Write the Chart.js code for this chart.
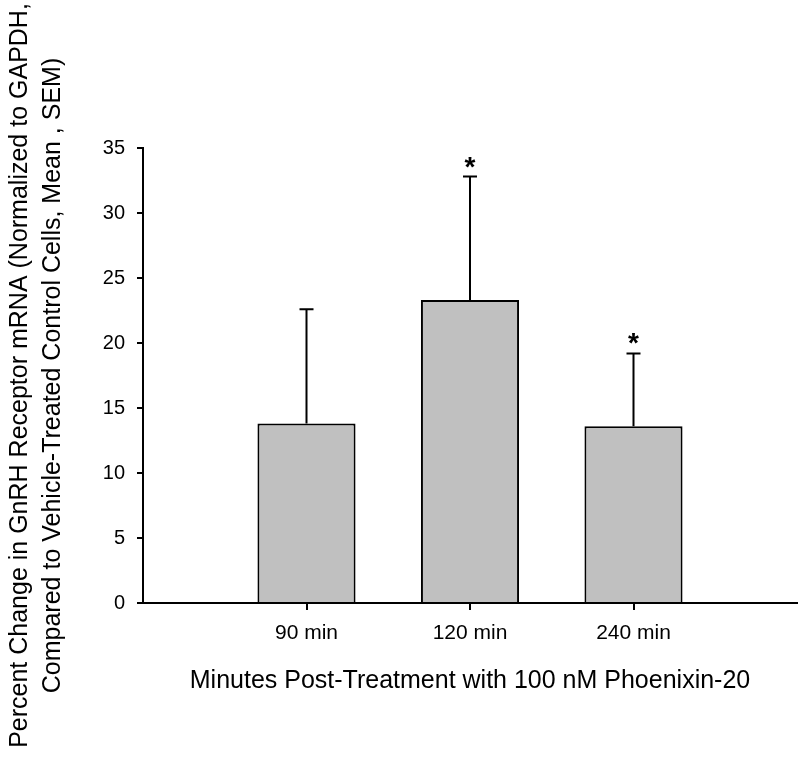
<!DOCTYPE html>
<html>
<head>
<meta charset="utf-8">
<title>GnRH Receptor mRNA</title>
<script src="https://cdn.jsdelivr.net/npm/chart.js@4.4.1/dist/chart.umd.min.js"></script>
<style>
    html, body { margin: 0; padding: 0; background: #ffffff; }
    #wrap { width: 800px; height: 760px; }
</style>
</head>
<body>
<div id="wrap"><canvas id="barChart" width="800" height="760"></canvas></div>
<script>
// Datos
const categories = ['90 min', '120 min', '240 min'];
const positions = [1, 2, 3];
const means = [13.8, 23.3, 13.6];
const sem = [8.8, 9.5, 5.6];
const significant = [false, true, true];
const yTicks = [0, 5, 10, 15, 20, 25, 30, 35];

const FONT = "'Liberation Sans', Arial, sans-serif";

// Barras de error (solo hacia arriba) y asteriscos
const errorBarsPlugin = {
    id: 'errorBars',
    afterDatasetsDraw(chart) {
        const ctx = chart.ctx;
        const x = chart.scales.x;
        const y = chart.scales.y;
        ctx.save();
        ctx.strokeStyle = '#000000';
        ctx.lineWidth = 2;
        positions.forEach((p, i) => {
            const px = x.getPixelForValue(p);
            const yBar = y.getPixelForValue(means[i]);
            const yTop = y.getPixelForValue(means[i] + sem[i]);
            ctx.beginPath();
            ctx.moveTo(px, yBar);
            ctx.lineTo(px, yTop);
            ctx.moveTo(px - 7, yTop);
            ctx.lineTo(px + 7, yTop);
            ctx.stroke();
            if (significant[i]) {
                ctx.fillStyle = '#000000';
                ctx.font = 'bold 28px ' + FONT;
                ctx.textAlign = 'center';
                ctx.textBaseline = 'alphabetic';
                ctx.fillText('*', px, yTop - 1);
            }
        });
        ctx.restore();
    }
};

const ctx = document.getElementById('barChart');

new Chart(ctx, {
    type: 'bar',
    data: {
        datasets: [{
            data: positions.map((p, i) => ({ x: p, y: means[i] })),
            backgroundColor: '#c0c0c0',
            borderColor: '#000000',
            borderWidth: 2,
            barPercentage: 0.6,
            categoryPercentage: 1.0
        }]
    },
    options: {
        responsive: false,
        animation: false,
        layout: { padding: { left: 0, right: 3, top: 148, bottom: 0 } },
        plugins: {
            legend: { display: false },
            tooltip: { enabled: false }
        },
        scales: {
            x: {
                type: 'linear',
                min: 0,
                max: 4,
                offset: false,
                afterBuildTicks: (scale) => {
                    scale.ticks = positions.map(v => ({ value: v }));
                },
                afterFit: (scale) => { scale.height = 157; },
                grid: {
                    offset: false,
                    drawOnChartArea: false,
                    drawTicks: true,
                    tickLength: 7,
                    tickColor: '#000000',
                    lineWidth: 2
                },
                border: { display: true, color: '#000000', width: 2 },
                ticks: {
                    autoSkip: false,
                    maxRotation: 0,
                    padding: 11,
                    color: '#000000',
                    font: { family: FONT, size: 21 },
                    callback: (value) => categories[positions.indexOf(value)] || ''
                },
                title: {
                    display: true,
                    text: 'Minutes Post-Treatment with 100 nM Phoenixin-20',
                    color: '#000000',
                    font: { family: FONT, size: 25 },
                    padding: { top: 0, bottom: 64 }
                }
            },
            y: {
                min: 0,
                max: 35,
                afterBuildTicks: (scale) => {
                    scale.ticks = yTicks.map(v => ({ value: v }));
                },
                afterFit: (scale) => { scale.width = 143; },
                grid: {
                    drawOnChartArea: false,
                    drawTicks: true,
                    tickLength: 6,
                    tickColor: '#000000',
                    lineWidth: 2
                },
                border: { display: true, color: '#000000', width: 2 },
                ticks: {
                    padding: 12,
                    color: '#000000',
                    font: { family: FONT, size: 20 }
                },
                title: {
                    display: true,
                    text: ['Percent Change in GnRH Receptor mRNA (Normalized to GAPDH,',
                           'Compared to Vehicle-Treated Control Cells, Mean , SEM)'],
                    color: '#000000',
                    font: { family: FONT, size: 25, lineHeight: 1.3 },
                    padding: { top: 4, bottom: 0 }
                }
            }
        }
    },
    plugins: [errorBarsPlugin]
});
</script>
</body>
</html>
